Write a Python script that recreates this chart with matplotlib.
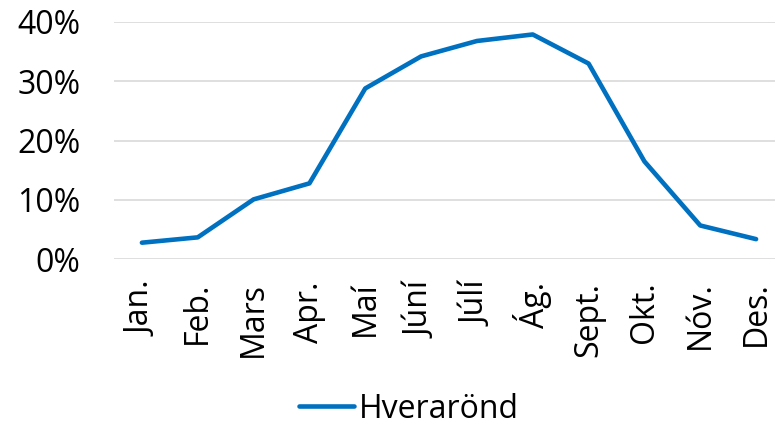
import matplotlib.pyplot as plt
from matplotlib.ticker import PercentFormatter

months = ['Jan.', 'Feb.', 'Mars', 'Apr.', 'Maí', 'Júní', 'Júlí', 'Ág.',
          'Sept.', 'Okt.', 'Nóv.', 'Des.']
hverarond = [0.028, 0.037, 0.101, 0.128, 0.288, 0.342, 0.368, 0.379,
             0.330, 0.165, 0.057, 0.034]
series_name = 'Hverarönd'

plt.rcParams['font.family'] = ['Open Sans', 'DejaVu Sans']

fig = plt.figure(figsize=(7.75, 4.25), dpi=100)
# axes spans a bit past the right figure edge, as in the reference crop
ax = fig.add_axes([114/775, 1 - 259.3/425, (784-114)/775, (259.3-22)/425])

x = range(len(months))
ax.plot(x, hverarond, color='#0070C0', lw=3.3, solid_capstyle='round',
        solid_joinstyle='round', label=series_name, zorder=3)

ax.set_xlim(-0.5, len(months) - 0.5)
ax.set_ylim(0, 0.4)
ax.set_yticks([0, 0.1, 0.2, 0.3, 0.4])
ax.yaxis.set_major_formatter(PercentFormatter(1.0, decimals=0))
ax.set_xticks(list(x))
ax.set_xticklabels(months, rotation=90)

ax.grid(axis='y', color='#d9d9d9', lw=1.2)
ax.set_axisbelow(True)
for s in ax.spines.values():
    s.set_visible(False)
ax.tick_params(axis='both', length=0, labelsize=23, colors='black')
ax.tick_params(axis='x', pad=16)
ax.tick_params(axis='y', pad=24)

fig.legend(loc='center', bbox_to_anchor=(409/775, 1 - 409/425), frameon=False,
           fontsize=23, handlelength=1.7, handletextpad=0.15)

plt.savefig('out.png', dpi=100)
